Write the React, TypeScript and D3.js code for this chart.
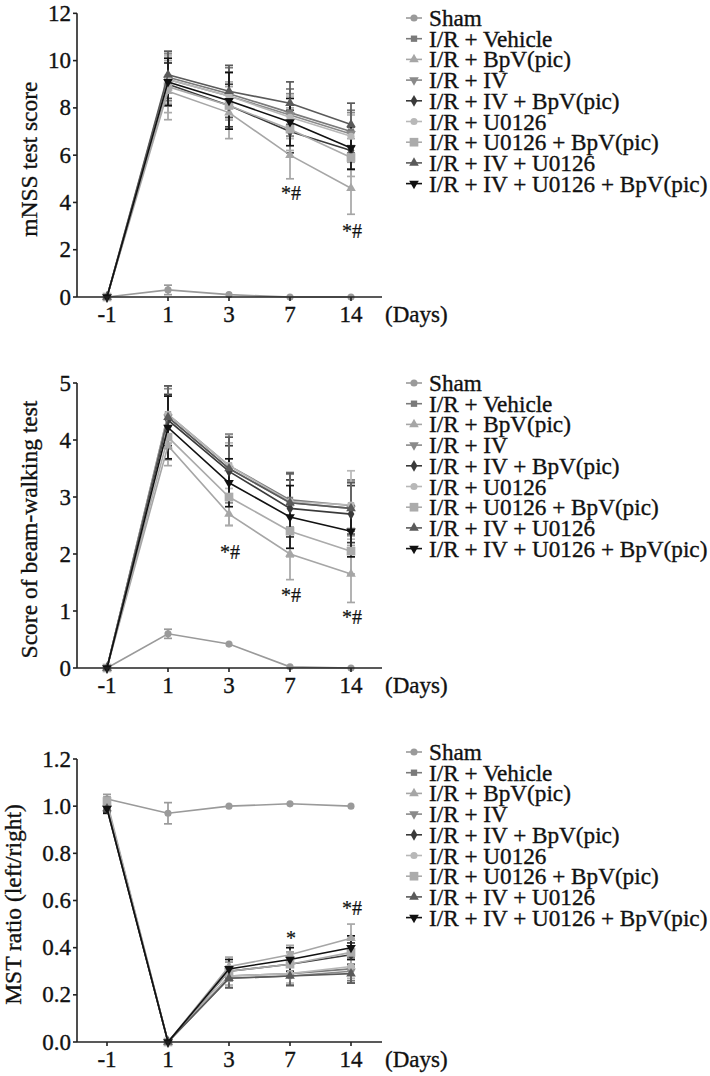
import React from "react";
import * as d3 from "d3";

const days = ["-1", "1", "3", "7", "14"];
const groups = [
  "Sham",
  "I/R + Vehicle",
  "I/R + BpV(pic)",
  "I/R + IV",
  "I/R + IV + BpV(pic)",
  "I/R + U0126",
  "I/R + U0126 + BpV(pic)",
  "I/R + IV + U0126",
  "I/R + IV + U0126 + BpV(pic)",
];
const groupColors = ["#9a9a9a", "#7a7a7a", "#a6a6a6", "#8a8a8a", "#3a3a3a", "#b8b8b8", "#ababab", "#5a5a5a", "#111111"];
const groupShapes = ["circle", "square", "triangle", "triangleDown", "diamond", "circle", "bigSquare", "triangle", "triangleDown"];

// mNSS test score
const mnssMeans = [
  [0, 0.3, 0.1, 0, 0],
  [0, 9.3, 8.6, 7.8, 7.0],
  [0, 8.7, 7.8, 6.0, 4.6],
  [0, 9.2, 8.5, 7.7, 6.9],
  [0, 9.0, 8.1, 7.0, 6.2],
  [0, 9.2, 8.5, 7.6, 6.8],
  [0, 8.9, 8.1, 7.1, 5.9],
  [0, 9.4, 8.7, 8.2, 7.3],
  [0, 9.1, 8.3, 7.4, 6.3],
];
const mnssErrors = [
  [0, 0.2, 0, 0, 0],
  [0, 1.0, 1.1, 1.0, 0.9],
  [0, 1.2, 1.1, 1.0, 1.1],
  [0, 1.1, 1.0, 0.9, 0.9],
  [0, 0.9, 0.9, 0.9, 0.8],
  [0, 1.0, 1.0, 0.9, 0.9],
  [0, 1.1, 1.0, 0.9, 0.8],
  [0, 1.0, 1.1, 0.9, 0.9],
  [0, 1.0, 1.2, 1.0, 0.9],
];
const mnssTicks = [0, 2, 4, 6, 8, 10, 12];
const mnssMarks = [
  { day: "7", value: 4.4, text: "*#" },
  { day: "14", value: 2.8, text: "*#" },
];

// beam-walking
const beamMeans = [
  [0, 0.6, 0.42, 0.02, 0],
  [0, 4.45, 3.55, 2.95, 2.85],
  [0, 3.9, 2.7, 2.0, 1.65],
  [0, 4.4, 3.5, 2.9, 2.8],
  [0, 4.35, 3.45, 2.8, 2.7],
  [0, 4.45, 3.55, 2.92, 2.86],
  [0, 4.05, 3.0, 2.4, 2.05],
  [0, 4.4, 3.5, 2.9, 2.8],
  [0, 4.22, 3.25, 2.65, 2.4],
];
const beamErrors = [
  [0, 0.08, 0, 0, 0],
  [0, 0.5, 0.55, 0.48, 0.45],
  [0, 0.35, 0.2, 0.45, 0.5],
  [0, 0.5, 0.6, 0.5, 0.48],
  [0, 0.45, 0.45, 0.5, 0.5],
  [0, 0.5, 0.4, 0.5, 0.6],
  [0, 0.4, 0.5, 0.45, 0.4],
  [0, 0.55, 0.55, 0.52, 0.45],
  [0, 0.55, 0.42, 0.55, 0.45],
];
const beamTicks = [0, 1, 2, 3, 4, 5];
const beamMarks = [
  { day: "3", value: 2.04, text: "*#" },
  { day: "7", value: 1.28, text: "*#" },
  { day: "14", value: 0.9, text: "*#" },
];

// MST ratio
const mstMeans = [
  [1.03, 0.97, 1.0, 1.01, 1.0],
  [1.0, 0, 0.28, 0.29, 0.31],
  [1.01, 0, 0.32, 0.37, 0.44],
  [0.99, 0, 0.27, 0.28, 0.3],
  [1.0, 0, 0.3, 0.33, 0.37],
  [1.01, 0, 0.28, 0.29, 0.32],
  [1.02, 0, 0.3, 0.33, 0.38],
  [0.99, 0, 0.27, 0.28, 0.29],
  [0.99, 0, 0.31, 0.35, 0.4],
];
const mstErrors = [
  [0.02, 0.045, 0, 0, 0],
  [0.02, 0, 0.04, 0.05, 0.05],
  [0.02, 0, 0.04, 0.04, 0.06],
  [0.02, 0, 0.04, 0.04, 0.05],
  [0.02, 0, 0.04, 0.05, 0.05],
  [0.02, 0, 0.04, 0.04, 0.05],
  [0.02, 0, 0.04, 0.05, 0.06],
  [0.02, 0, 0.04, 0.04, 0.04],
  [0.02, 0, 0.04, 0.05, 0.05],
];
const mstTicks = [0, 0.2, 0.4, 0.6, 0.8, 1.0, 1.2];
const mstMarks = [
  { day: "7", value: 0.44, text: "*" },
  { day: "14", value: 0.57, text: "*#" },
];

const FONT = "'Liberation Serif', 'Times New Roman', serif";
const TXT = { fontFamily: FONT, fill: "#111", stroke: "#111", strokeWidth: 0.35 };

type PanelProps = {
  title: string;
  means: number[][];
  errors: number[][];
  ticks: number[];
  tickFmt: (v: number) => string;
  yTop: number;
  yBottom: number;
  yMax: number;
  titleX: number;
  legendTop: number;
  marks: { day: string; value: number; text: string }[];
};

function symbolPath(shape: string): { d: string; rot: number } {
  let type: d3.SymbolType = d3.symbolCircle;
  let size = 40;
  let rot = 0;
  if (shape === "square") { type = d3.symbolSquare; size = 40; }
  if (shape === "bigSquare") { type = d3.symbolSquare; size = 75; }
  if (shape === "triangle") { type = d3.symbolTriangle; size = 40; }
  if (shape === "triangleDown") { type = d3.symbolTriangle; size = 40; rot = 180; }
  if (shape === "diamond") { type = d3.symbolDiamond; size = 40; }
  return { d: d3.symbol().type(type).size(size)() || "", rot };
}

function Panel(p: PanelProps) {
  const x = d3.scalePoint<string>().domain(days).range([107, 351]);
  const y = d3.scaleLinear().domain([0, p.yMax]).range([p.yBottom, p.yTop]);
  const axisLeft = 77;
  const axisRight = 382;
  const line = d3
    .line<number>()
    .x((_, i) => x(days[i]) as number)
    .y((v) => y(v));
  const order = d3.range(groups.length);
  const rowH = 20.7;
  return (
    <g>
      {/* error bars */}
      {order.map((gi) => (
        <g key={"e" + gi} stroke={groupColors[gi]} strokeWidth={1.7}>
          {p.means[gi].map((m, di) => {
            const e = p.errors[gi][di];
            if (!e) return null;
            const cx = x(days[di]) as number;
            return (
              <g key={di}>
                <line x1={cx} x2={cx} y1={y(m - e)} y2={y(m + e)} />
                <line x1={cx - 4} x2={cx + 4} y1={y(m - e)} y2={y(m - e)} />
                <line x1={cx - 4} x2={cx + 4} y1={y(m + e)} y2={y(m + e)} />
              </g>
            );
          })}
        </g>
      ))}
      {/* lines + markers */}
      {order.map((gi) => {
        const s = symbolPath(groupShapes[gi]);
        return (
          <g key={"l" + gi}>
            <path d={line(p.means[gi]) || ""} fill="none" stroke={groupColors[gi]} strokeWidth={1.6} />
            {p.means[gi].map((m, di) => (
              <path
                key={di}
                d={s.d}
                fill={groupColors[gi]}
                transform={`translate(${x(days[di])},${y(m)}) rotate(${s.rot})`}
              />
            ))}
          </g>
        );
      })}
      {/* axes */}
      <line x1={axisLeft} x2={axisLeft} y1={y(p.yMax)} y2={y(0)} stroke="#222" strokeWidth={1.6} />
      <line x1={axisLeft} x2={axisRight} y1={y(0)} y2={y(0)} stroke="#222" strokeWidth={1.6} />
      {p.ticks.map((t) => (
        <g key={"yt" + t}>
          <line x1={axisLeft - 4} x2={axisLeft} y1={y(t)} y2={y(t)} stroke="#222" strokeWidth={1.6} />
          <text x={axisLeft - 6} y={y(t)} textAnchor="end" dominantBaseline="central" fontSize={23} {...TXT}>
            {p.tickFmt(t)}
          </text>
        </g>
      ))}
      {days.map((d) => (
        <g key={"xt" + d}>
          <line x1={x(d)} x2={x(d)} y1={y(0)} y2={y(0) + 4} stroke="#222" strokeWidth={1.6} />
          <text x={x(d)} y={y(0) + 25} textAnchor="middle" fontSize={23} {...TXT}>
            {d}
          </text>
        </g>
      ))}
      <text x={385} y={y(0) + 25} fontSize={23} {...TXT}>
        (Days)
      </text>
      <text
        transform={`translate(${p.titleX},${(p.yTop + p.yBottom) / 2 + 4}) rotate(-90)`}
        textAnchor="middle"
        dominantBaseline="central"
        fontSize={23.5}
        {...TXT}
      >
        {p.title}
      </text>
      {/* significance marks */}
      {p.marks.map((mk, i) => (
        <text
          key={"m" + i}
          x={(x(mk.day) as number) + 1}
          y={y(mk.value)}
          textAnchor="middle"
          dominantBaseline="central"
          fontSize={20}
          {...TXT}
          strokeWidth={0.2}
        >
          {mk.text}
        </text>
      ))}
      {/* legend */}
      {groups.map((g, gi) => {
        const s = symbolPath(groupShapes[gi]);
        const cy = p.legendTop + gi * rowH;
        return (
          <g key={"lg" + gi}>
            <line x1={406} x2={422} y1={cy} y2={cy} stroke={groupColors[gi]} strokeWidth={1.6} />
            <path d={s.d} fill={groupColors[gi]} transform={`translate(414,${cy}) rotate(${s.rot})`} />
            <text x={429} y={cy} dominantBaseline="central" fontSize={23.2} {...TXT}>
              {g}
            </text>
          </g>
        );
      })}
    </g>
  );
}

export default function App() {
  return (
    <div style={{ position: "absolute", left: 0, top: 0 }}>
      <svg width={710} height={1076} style={{ display: "block", background: "#fff" }}>
        <Panel
          title="mNSS test score"
          means={mnssMeans}
          errors={mnssErrors}
          ticks={mnssTicks}
          tickFmt={(v) => String(v)}
          yTop={40 / 3}
          yBottom={297}
          yMax={12}
          titleX={29}
          legendTop={18}
          marks={mnssMarks}
        />
        <Panel
          title="Score of beam-walking test"
          means={beamMeans}
          errors={beamErrors}
          ticks={beamTicks}
          tickFmt={(v) => String(v)}
          yTop={383}
          yBottom={668}
          yMax={5}
          titleX={29}
          legendTop={383}
          marks={beamMarks}
        />
        <Panel
          title="MST ratio (left/right)"
          means={mstMeans}
          errors={mstErrors}
          ticks={mstTicks}
          tickFmt={(v) => d3.format(".1f")(v)}
          yTop={759}
          yBottom={1042}
          yMax={1.2}
          titleX={13}
          legendTop={752}
          marks={mstMarks}
        />
      </svg>
    </div>
  );
}
